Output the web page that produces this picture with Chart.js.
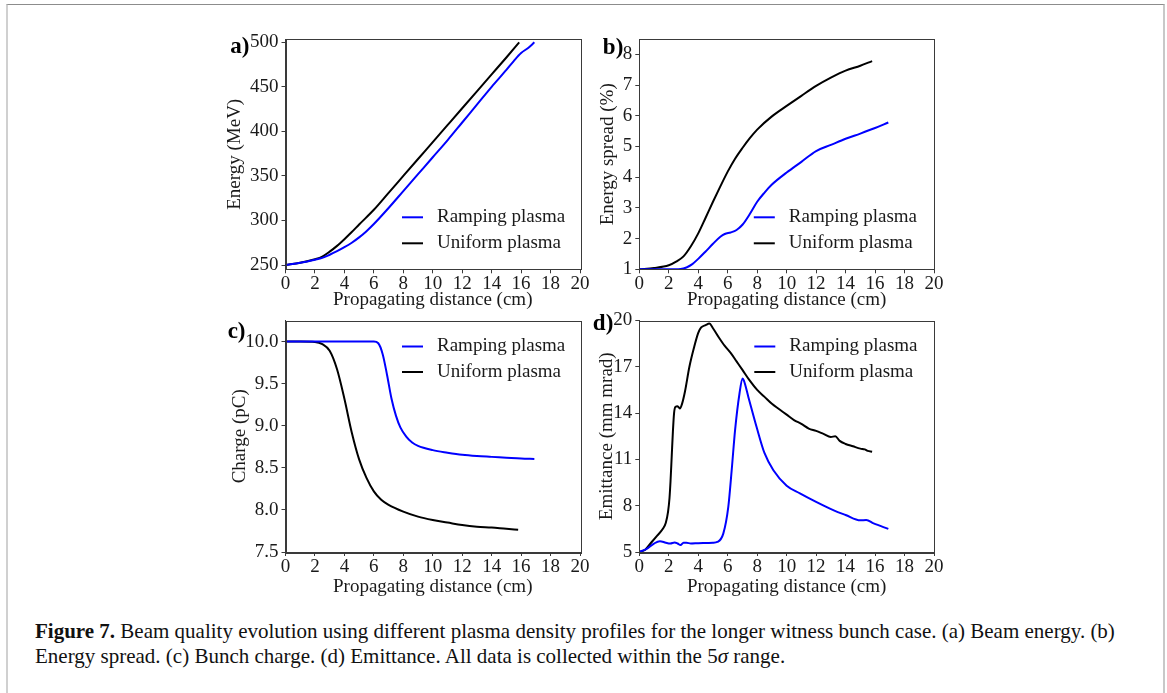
<!doctype html>
<html lang="en">
<head>
  <meta charset="utf-8" />
  <title>Figure 7</title>
  <script src="https://cdn.jsdelivr.net/npm/chart.js@4.4.1/dist/chart.umd.min.js"></script>
  <style>
    body { margin:0; background:#fff; width:1167px; height:693px; overflow:hidden; position:relative; }
    #frame { position:absolute; left:6px; top:4px; width:1155px; height:720px;
             border-top:1px solid #8c8c8c; border-left:2px solid #d0d0d0; border-right:2px solid #c8c8c8; }
    #caption { position:absolute; left:35px; top:619px; font-family:"Liberation Serif", serif;
               font-size:21px; line-height:25px; color:#111; white-space:nowrap; }
  </style>
</head>
<body>
<div id="frame"></div>
<div id="caption"><b>Figure 7.</b> Beam quality evolution using different plasma density profiles for the longer witness bunch case. (a) Beam energy. (b)<br>Energy spread. (c) Bunch charge. (d) Emittance. All data is collected within the 5<i>σ</i> range.</div>

<script>
// ---- data ----
const xTicks = [0, 2, 4, 6, 8, 10, 12, 14, 16, 18, 20];
const seriesNames = ['Ramping plasma', 'Uniform plasma'];

// a) energy (MeV)
const energyTicks = [250, 300, 350, 400, 450, 500];
const energyRampX = [0, 1, 2, 2.5, 3, 3.5, 4, 4.5, 5, 5.5, 6, 7, 8, 9, 10, 11, 12, 13, 14, 15, 15.5, 16, 16.5, 16.9];
const energyRampY = [250, 252.5, 256, 258, 261.5, 265.5, 270, 275, 281, 288, 296, 314, 333, 352, 371, 390, 410, 430, 450, 469, 479, 488, 494, 500];
const energyUnifX = [0, 1, 2, 2.5, 3, 3.5, 4, 4.5, 5, 6, 7, 8, 9, 10, 11, 12, 13, 14, 15, 15.87];
const energyUnifY = [250, 252.5, 256.5, 259.5, 265, 271.5, 279, 287, 295.5, 312, 331, 350, 369, 388, 407, 426, 445, 464, 483, 500];

// b) energy spread (%)
const spreadTicks = [1, 2, 3, 4, 5, 6, 7, 8];
const spreadRampX = [0, 1, 2, 2.8, 3.2, 3.6, 4, 4.5, 5, 5.5, 5.8, 6.2, 6.6, 7, 7.5, 8, 8.5, 9, 10, 11, 12, 13, 14, 15, 16, 16.9];
const spreadRampY = [1, 1, 1, 1.01, 1.06, 1.17, 1.34, 1.58, 1.83, 2.06, 2.15, 2.2, 2.28, 2.45, 2.8, 3.2, 3.5, 3.76, 4.15, 4.5, 4.85, 5.05, 5.25, 5.42, 5.6, 5.78];
const spreadUnifX = [0, 1, 2, 2.5, 3, 3.5, 4, 4.5, 5, 5.5, 6, 6.5, 7, 7.5, 8, 9, 10, 11, 12, 13, 14, 15, 15.8];
const spreadUnifY = [1, 1.04, 1.13, 1.25, 1.42, 1.75, 2.17, 2.68, 3.2, 3.7, 4.18, 4.6, 4.95, 5.27, 5.55, 5.98, 6.32, 6.65, 6.97, 7.24, 7.47, 7.63, 7.78];

// c) charge (pC)
const chargeTicks = [7.5, 8.0, 8.5, 9.0, 9.5, 10.0];
const chargeRampX = [0, 3, 6, 6.3, 6.6, 6.9, 7.2, 7.5, 7.8, 8.2, 8.6, 9, 10, 11, 12, 13, 14, 15, 16, 16.9];
const chargeRampY = [10, 10, 10, 9.98, 9.85, 9.6, 9.32, 9.12, 8.98, 8.87, 8.8, 8.76, 8.71, 8.68, 8.655, 8.64, 8.63, 8.62, 8.61, 8.605];
const chargeUnifX = [0, 1, 2, 2.5, 3, 3.5, 4, 4.5, 5, 5.5, 6, 6.5, 7, 8, 9, 10, 11, 12, 13, 14, 15, 15.8];
const chargeUnifY = [10, 10, 9.995, 9.97, 9.89, 9.67, 9.32, 8.92, 8.6, 8.38, 8.22, 8.12, 8.06, 7.98, 7.92, 7.88, 7.85, 7.82, 7.8, 7.79, 7.775, 7.765];

// d) emittance (mm mrad)
const emitTicks = [5, 8, 11, 14, 17, 20];
const emitRampX = [0, 0.5, 1, 1.4, 1.8, 2.1, 2.4, 2.6, 2.8, 3, 3.2, 3.5, 4, 5, 5.3, 5.7, 6.04, 6.27, 6.5, 6.8, 7.01, 7.1, 7.4, 7.96, 8.5, 9.1, 10, 10.9, 12, 13.2, 14, 15, 15.4, 15.9, 16.9];
const emitRampY = [5, 5.2, 5.55, 5.7, 5.6, 5.55, 5.62, 5.55, 5.45, 5.6, 5.6, 5.55, 5.57, 5.6, 5.65, 6.19, 7.92, 10.3, 12.9, 15.27, 16.24, 16.1, 15.05, 13.1, 11.4, 10.3, 9.3, 8.8, 8.25, 7.7, 7.4, 7.05, 7.07, 6.85, 6.5];
const emitUnifX = [0, 0.4, 0.8, 1.2, 1.6, 1.8, 1.95, 2.05, 2.12, 2.2, 2.28, 2.36, 2.45, 2.6, 2.75, 2.9, 3.1, 3.4, 3.7, 4, 4.2, 4.5, 4.75, 5, 5.4, 5.8, 6.2, 6.6, 7, 7.5, 8, 8.5, 9, 9.5, 10, 10.5, 11, 11.5, 12, 12.5, 13, 13.3, 13.6, 14, 14.5, 15, 15.3, 15.5, 15.8];
const emitUnifY = [5, 5.15, 5.6, 6.05, 6.5, 6.9, 7.6, 8.5, 9.6, 11.2, 12.8, 14, 14.4, 14.45, 14.3, 14.6, 15.4, 17, 18.2, 19.2, 19.55, 19.7, 19.8, 19.5, 18.9, 18.35, 17.9, 17.35, 16.8, 16.1, 15.5, 15.05, 14.6, 14.25, 13.9, 13.55, 13.3, 13, 12.85, 12.65, 12.45, 12.5, 12.2, 12, 11.85, 11.7, 11.65, 11.55, 11.5];
</script>

<script>
const FONT = 'Liberation Serif';
const INK = '#1a1a1a';
const AXIS = '#3a3a3a';
const HALF_TITLE = 19 * 1.2 / 2;

function pts(xs, ys) {
  return xs.map(function (x, i) { return {x: x, y: ys[i]}; });
}

// draws the full box round the plot, the legend and the panel letter
const decorations = {
  id: 'decorations',
  afterDraw(chart, args, opts) {
    const ctx = chart.ctx;
    const a = chart.chartArea;
    ctx.save();
    ctx.strokeStyle = AXIS;
    ctx.lineWidth = 1;
    ctx.strokeRect(Math.round(a.left) + 0.5, Math.round(a.top) + 0.5, Math.round(a.right - a.left), Math.round(a.bottom - a.top));

    ctx.font = '19px "' + FONT + '"';
    ctx.textBaseline = 'middle';
    chart.data.datasets.forEach(function (ds, i) {
      const y = a.top + opts.legY + i * opts.legDy;
      const x = a.left + opts.legX;
      ctx.strokeStyle = ds.borderColor;
      ctx.lineWidth = 2;
      ctx.beginPath();
      ctx.moveTo(x, y);
      ctx.lineTo(x + 21, y);
      ctx.stroke();
      ctx.fillStyle = INK;
      ctx.fillText(ds.label, x + 35, y);
    });

    ctx.font = 'bold 23px "' + FONT + '"';
    ctx.textBaseline = 'alphabetic';
    ctx.textAlign = 'right';
    ctx.fillStyle = '#000';
    ctx.fillText(opts.letter, a.left + opts.letX, a.top + opts.letY);
    ctx.restore();
  }
};

function addPanel(p) {
  const box = p.box;
  const div = document.createElement('div');
  div.style.cssText = 'position:absolute;left:' + box[0] + 'px;top:' + box[1] + 'px;width:' + box[2] + 'px;height:' + box[3] + 'px';
  const cv = document.createElement('canvas');
  div.appendChild(cv);
  document.body.appendChild(div);

  const L = p.area[0] - box[0], T = p.area[1] - box[1], R = p.area[2] - box[0], B = p.area[3] - box[1];
  const padLeft = p.yTitleX - box[0] - HALF_TITLE;
  const axisBottom = p.xTitleY - box[1] + HALF_TITLE;

  new Chart(cv, {
    type: 'line',
    data: {
      datasets: [
        {label: seriesNames[0], data: pts(p.rampX, p.rampY), borderColor: '#0000ff'},
        {label: seriesNames[1], data: pts(p.unifX, p.unifY), borderColor: '#000000'}
      ]
    },
    options: {
      responsive: true,
      maintainAspectRatio: false,
      animation: false,
      layout: {padding: {left: padLeft, top: T, right: box[2] - R, bottom: box[3] - axisBottom}},
      elements: {
        line: {borderWidth: 2, cubicInterpolationMode: 'monotone', fill: false},
        point: {radius: 0, hoverRadius: 0}
      },
      plugins: {
        legend: {display: false},
        tooltip: {enabled: false},
        decorations: p.deco
      },
      scales: {
        x: {
          type: 'linear', min: 0, max: 20,
          afterBuildTicks(s) { s.ticks = xTicks.map(function (v) { return {value: v}; }); },
          afterFit(s) { s.height = axisBottom - B; },
          grid: {drawOnChartArea: false, drawTicks: true, tickLength: 4, tickColor: AXIS},
          border: {display: true, color: AXIS},
          ticks: {color: INK, padding: 1.5, maxRotation: 0, autoSkip: false, font: {family: FONT, size: 19, lineHeight: 1}},
          title: {display: true, text: 'Propagating distance (cm)', color: INK, padding: 0, font: {family: FONT, size: 19}}
        },
        y: {
          type: 'linear', min: p.yMin, max: p.yMax,
          afterBuildTicks(s) { s.ticks = p.yTicks.map(function (v) { return {value: v}; }); },
          afterFit(s) { s.width = L - padLeft; },
          grid: {drawOnChartArea: false, drawTicks: true, tickLength: 4, tickColor: AXIS},
          border: {display: true, color: AXIS},
          ticks: {color: INK, padding: 3, autoSkip: false, font: {family: FONT, size: 19, lineHeight: 1},
                  callback: function (v) { return p.fmt ? v.toFixed(p.fmt) : String(v); }},
          title: {display: true, text: p.yTitle, color: INK, padding: 0, font: {family: FONT, size: 19}}
        }
      }
    },
    plugins: [decorations]
  });
}

addPanel({
  box: [200, 15, 400, 300], area: [285.5, 39.3, 580, 269.3], yTitleX: 235, xTitleY: 300,
  yMin: 245.2, yMax: 503.4, yTicks: energyTicks, yTitle: 'Energy (MeV)',
  rampX: energyRampX, rampY: energyRampY, unifX: energyUnifX, unifY: energyUnifY,
  deco: {legX: 116.5, legY: 178, legDy: 26, letter: 'a)', letX: -36, letY: 14}
});
addPanel({
  box: [560, 15, 400, 300], area: [639.3, 39.3, 934, 269.3], yTitleX: 608, xTitleY: 300,
  yMin: 1, yMax: 8.49, yTicks: spreadTicks, yTitle: 'Energy spread (%)',
  rampX: spreadRampX, rampY: spreadRampY, unifX: spreadUnifX, unifY: spreadUnifY,
  deco: {legX: 114.5, legY: 178, legDy: 26, letter: 'b)', letX: -16, letY: 15}
});
addPanel({
  box: [200, 296, 400, 310], area: [285.5, 320.5, 580, 552], yTitleX: 240, xTitleY: 587,
  yMin: 7.5, yMax: 10.25, yTicks: chargeTicks, yTitle: 'Charge (pC)', fmt: 1,
  rampX: chargeRampX, rampY: chargeRampY, unifX: chargeUnifX, unifY: chargeUnifY,
  deco: {legX: 116.5, legY: 26, legDy: 25.5, letter: 'c)', letX: -40, letY: 17}
});
addPanel({
  box: [560, 296, 400, 310], area: [639.3, 320.5, 934, 552], yTitleX: 607, xTitleY: 587,
  yMin: 5, yMax: 20, yTicks: emitTicks, yTitle: 'Emittance (mm mrad)',
  rampX: emitRampX, rampY: emitRampY, unifX: emitUnifX, unifY: emitUnifY,
  deco: {legX: 115, legY: 26, legDy: 25.5, letter: 'd)', letX: -26, letY: 9}
});
</script>
</body>
</html>
